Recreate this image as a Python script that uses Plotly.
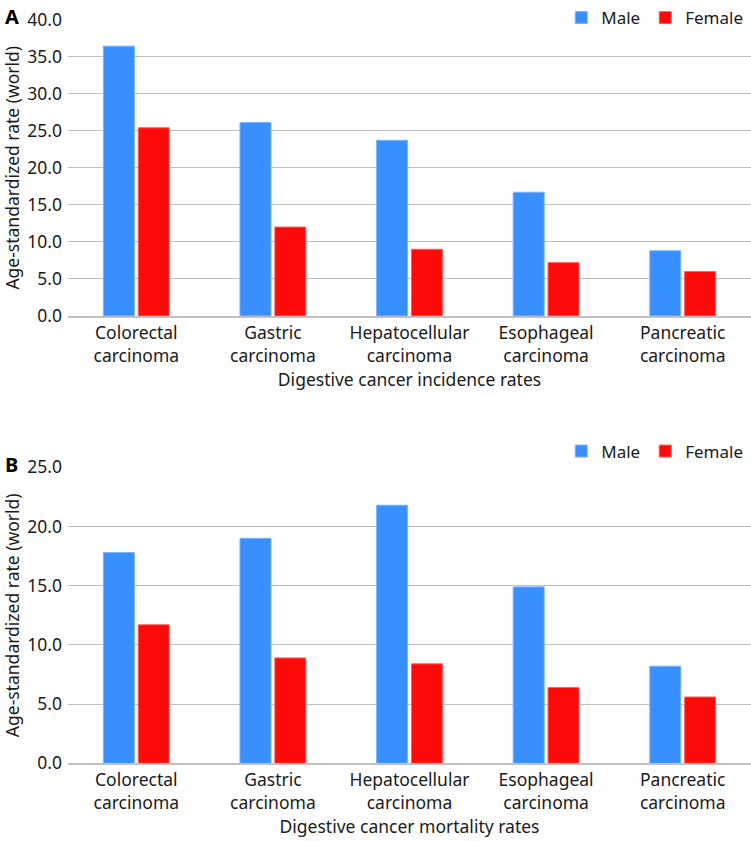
import plotly.graph_objects as go

categories = ["Colorectal<br>carcinoma", "Gastric<br>carcinoma", "Hepatocellular<br>carcinoma",
              "Esophageal<br>carcinoma", "Pancreatic<br>carcinoma"]
incidence_male = [36.4, 26.1, 23.7, 16.7, 8.8]
incidence_female = [25.4, 12.0, 9.0, 7.2, 6.0]
mortality_male = [17.8, 19.0, 21.8, 14.9, 8.2]
mortality_female = [11.7, 8.9, 8.4, 6.4, 5.6]

BLUE = "#3a8ffe"
RED = "#ff0a0a"
FONT = "Noto Sans"
GRID = "#c0c0c0"
FS = 17.5

fig = go.Figure()

fig.add_trace(go.Bar(x=categories, y=incidence_male, name="Male", marker=dict(color=BLUE, line=dict(color="#7ab3ff", width=1)),
                     xaxis="x", yaxis="y", legend="legend"))
fig.add_trace(go.Bar(x=categories, y=incidence_female, name="Female", marker=dict(color=RED, line=dict(color="#ff6060", width=1)),
                     xaxis="x", yaxis="y", legend="legend"))
fig.add_trace(go.Bar(x=categories, y=mortality_male, name="Male", marker=dict(color=BLUE, line=dict(color="#7ab3ff", width=1)),
                     xaxis="x2", yaxis="y2", legend="legend2"))
fig.add_trace(go.Bar(x=categories, y=mortality_female, name="Female", marker=dict(color=RED, line=dict(color="#ff6060", width=1)),
                     xaxis="x2", yaxis="y2", legend="legend2"))

H = 841.0
top_dom = [(H - 316) / H, (H - 19.5) / H]
bot_dom = [(H - 763.3) / H, (H - 467.3) / H]

axis_font = dict(family=FONT, size=FS, color="#1a1a1a")

xcommon = dict(showgrid=False, showline=True, linecolor=GRID, linewidth=1.5, ticks="",
               tickfont=axis_font, title_font=axis_font, title_standoff=8, automargin=False)
ycommon = dict(showgrid=True, gridcolor=GRID, gridwidth=1.2, zeroline=False, showline=False,
               tickformat=".1f", dtick=5, tickfont=axis_font, title_font=axis_font,
               title_text="Age-standardized rate (world)", ticks="", ticklabelstandoff=5,
               title_standoff=11, automargin=False)

legend_font = dict(family=FONT, size=17, color="#1a1a1a")

fig.update_layout(
    width=751, height=841,
    margin=dict(l=68, r=0, t=0, b=0, autoexpand=False),
    plot_bgcolor="white", paper_bgcolor="white",
    font=dict(family=FONT, size=FS, color="#1a1a1a"),
    barmode="group", bargap=0.49, bargroupgap=0.11,
    xaxis=dict(domain=[0, 1], anchor="y", title_text="Digestive cancer incidence rates", **xcommon),
    yaxis=dict(domain=top_dom, anchor="x", range=[0, 40], **ycommon),
    xaxis2=dict(domain=[0, 1], anchor="y2", title_text="Digestive cancer mortality rates", **xcommon),
    yaxis2=dict(domain=bot_dom, anchor="x2", range=[0, 25], **ycommon),
    legend=dict(orientation="h", x=0.996, xanchor="right", y=1.0, yanchor="top",
                font=legend_font, itemwidth=30, bgcolor="rgba(0,0,0,0)"),
    legend2=dict(orientation="h", x=0.996, xanchor="right", y=(H - 451.5) / H, yanchor="middle",
                 font=legend_font, itemwidth=30, bgcolor="rgba(0,0,0,0)"),
    annotations=[
        dict(text="<b>A</b>", x=(3 - 68) / (751 - 68), y=(H - 16.5) / H, xref="paper", yref="paper", showarrow=False,
             font=dict(family=FONT, size=20, color="black"), xanchor="left", yanchor="middle"),
        dict(text="<b>B</b>", x=(3 - 68) / (751 - 68), y=(H - 464) / H, xref="paper", yref="paper", showarrow=False,
             font=dict(family=FONT, size=20, color="black"), xanchor="left", yanchor="middle"),
    ],
)

fig.write_html("out.html", config={"displayModeBar": False},
               post_script="document.body.style.margin='0';document.body.style.overflow='hidden';")
